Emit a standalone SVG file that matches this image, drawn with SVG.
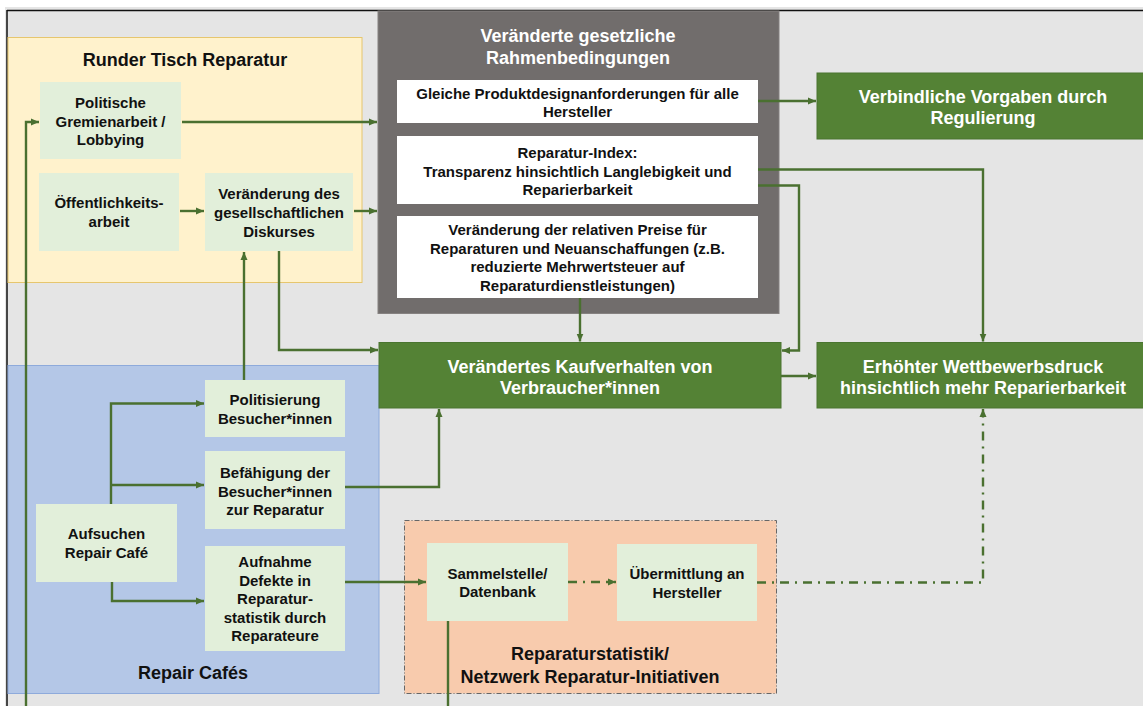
<svg xmlns="http://www.w3.org/2000/svg" width="1143" height="706" viewBox="0 0 1143 706">
<defs>
<style>
text{font-family:"Liberation Sans",Arial,sans-serif;font-weight:bold;text-anchor:middle}
.n{font-size:15px;fill:#111}
.t{font-size:18px;fill:#111}
.w{font-size:18px;fill:#fff}
.node{fill:#e2efda}
.wb{fill:#ffffff}
.g{fill:#548235;stroke:#4a7530;stroke-width:1}
.c{fill:none;stroke:#4a7030;stroke-width:2.4}
.dd{fill:none;stroke:#4a7030;stroke-width:2.4;stroke-dasharray:9 6 2 6}
</style>
<marker id="ah" markerUnits="userSpaceOnUse" markerWidth="9" markerHeight="8" refX="8" refY="4" orient="auto">
<path d="M0,0.5 L8,4 L0,7.5 Z" fill="#4a7030"/>
</marker>
</defs>
<rect x="0" y="0" width="1143" height="706" fill="#ffffff"/>
<rect x="5" y="7" width="1138" height="699" fill="#e5e5e5"/>
<line x1="7" y1="10.5" x2="1143" y2="10.5" stroke="#111" stroke-width="1.5"/>
<line x1="7" y1="10" x2="7" y2="706" stroke="#111" stroke-width="1.5"/>

<g id="runder-tisch">
<rect x="8" y="37.5" width="354" height="245" fill="#fff2cc" stroke="#e6c66e" stroke-width="1"/>
<text class="t" x="185" y="66">Runder Tisch Reparatur</text>
</g>
<g id="repair-cafes">
<rect x="8" y="365.5" width="371" height="328" fill="#b4c7e7" stroke="#8eaadb" stroke-width="1"/>
<text class="t" x="193" y="679">Repair Cafés</text>
</g>
<g id="reparaturstatistik">
<rect x="404.5" y="520.5" width="372" height="173" fill="#f8cbad" stroke="#666" stroke-width="1" stroke-dasharray="5 2 1 2"/>
<text class="t" x="590"><tspan x="590" y="660">Reparaturstatistik/</tspan><tspan x="590" y="683">Netzwerk Reparatur-Initiativen</tspan></text>
</g>
<g id="rahmenbedingungen">
<rect x="378" y="11" width="401" height="302.5" fill="#716d6c" stroke="#858180" stroke-width="1"/>
<text class="w"><tspan x="578" y="42">Veränderte gesetzliche</tspan><tspan x="578" y="64">Rahmenbedingungen</tspan></text>
</g>
<g id="produktdesign">
<rect class="wb" x="397" y="80" width="361" height="43"/>
<text class="n"><tspan x="577.5" y="98.5">Gleiche Produktdesignanforderungen für alle</tspan><tspan x="577.5" y="117">Hersteller</tspan></text>
</g>
<g id="reparatur-index">
<rect class="wb" x="397" y="136" width="361" height="68"/>
<text class="n"><tspan x="577.5" y="158">Reparatur-Index:</tspan><tspan x="577.5" y="176.5">Transparenz hinsichtlich Langlebigkeit und</tspan><tspan x="577.5" y="195">Reparierbarkeit</tspan></text>
</g>
<g id="preise">
<rect class="wb" x="397" y="216" width="361" height="82"/>
<text class="n"><tspan x="577.5" y="235">Veränderung der relativen Preise für</tspan><tspan x="577.5" y="253.5">Reparaturen und Neuanschaffungen (z.B.</tspan><tspan x="577.5" y="272">reduzierte Mehrwertsteuer auf</tspan><tspan x="577.5" y="290.5">Reparaturdienstleistungen)</tspan></text>
</g>
<g id="politische">
<rect class="node" x="40" y="82" width="141" height="77"/>
<text class="n"><tspan x="110.5" y="108">Politische</tspan><tspan x="110.5" y="126.5">Gremienarbeit /</tspan><tspan x="110.5" y="145">Lobbying</tspan></text>
</g>
<g id="oeffentlichkeit">
<rect class="node" x="39" y="173" width="140" height="78"/>
<text class="n"><tspan x="109" y="208">Öffentlichkeits-</tspan><tspan x="109" y="227">arbeit</tspan></text>
</g>
<g id="diskurs">
<rect class="node" x="205" y="173" width="148" height="78"/>
<text class="n"><tspan x="279" y="199">Veränderung des</tspan><tspan x="279" y="218">gesellschaftlichen</tspan><tspan x="279" y="236.5">Diskurses</tspan></text>
</g>
<g id="verbindliche">
<rect class="g" x="817" y="73" width="330" height="66"/>
<text class="w"><tspan x="983" y="102.5">Verbindliche Vorgaben durch</tspan><tspan x="983" y="124">Regulierung</tspan></text>
</g>
<g id="kaufverhalten">
<rect class="g" x="379" y="342.5" width="402" height="65.5"/>
<text class="w"><tspan x="580" y="372.5">Verändertes Kaufverhalten von</tspan><tspan x="580" y="394">Verbraucher*innen</tspan></text>
</g>
<g id="wettbewerb">
<rect class="g" x="817" y="342.5" width="330" height="65.5"/>
<text class="w"><tspan x="983" y="372.5">Erhöhter Wettbewerbsdruck</tspan><tspan x="983" y="394">hinsichtlich mehr Reparierbarkeit</tspan></text>
</g>
<g id="politisierung">
<rect class="node" x="205" y="380" width="140" height="57"/>
<text class="n"><tspan x="275" y="405">Politisierung</tspan><tspan x="275" y="423.5">Besucher*innen</tspan></text>
</g>
<g id="befaehigung">
<rect class="node" x="205" y="451" width="140" height="78"/>
<text class="n"><tspan x="275" y="478">Befähigung der</tspan><tspan x="275" y="496.5">Besucher*innen</tspan><tspan x="275" y="515">zur Reparatur</tspan></text>
</g>
<g id="aufsuchen">
<rect class="node" x="36" y="504" width="141" height="78"/>
<text class="n"><tspan x="106.5" y="539">Aufsuchen</tspan><tspan x="106.5" y="558">Repair Café</tspan></text>
</g>
<g id="aufnahme">
<rect class="node" x="205" y="546" width="140" height="105"/>
<text class="n"><tspan x="275" y="567">Aufnahme</tspan><tspan x="275" y="585.5">Defekte in</tspan><tspan x="275" y="604">Reparatur-</tspan><tspan x="275" y="622.5">statistik durch</tspan><tspan x="275" y="641">Reparateure</tspan></text>
</g>
<g id="sammelstelle">
<rect class="node" x="427" y="543" width="141" height="78"/>
<text class="n"><tspan x="497.5" y="578.5">Sammelstelle/</tspan><tspan x="497.5" y="597">Datenbank</tspan></text>
</g>
<g id="uebermittlung">
<rect class="node" x="617" y="544" width="140" height="77"/>
<text class="n"><tspan x="687" y="579">Übermittlung an</tspan><tspan x="687" y="597.5">Hersteller</tspan></text>
</g>

<g id="connectors">
<path class="c" d="M26,706 V122 H39" marker-end="url(#ah)"/>
<path class="c" d="M182,122 H377" marker-end="url(#ah)"/>
<path class="c" d="M180,211 H204" marker-end="url(#ah)"/>
<path class="c" d="M354,211 H377" marker-end="url(#ah)"/>
<path class="c" d="M244,380 V252" marker-end="url(#ah)"/>
<path class="c" d="M279,251 V350 H378" marker-end="url(#ah)"/>
<path class="c" d="M758,101 H816" marker-end="url(#ah)"/>
<path class="c" d="M758,169.5 H983 V341.5" marker-end="url(#ah)"/>
<path class="c" d="M758,185.5 H799 V350.5 H782" marker-end="url(#ah)"/>
<path class="c" d="M580,298 V341.5" marker-end="url(#ah)"/>
<path class="c" d="M781,376 H816" marker-end="url(#ah)"/>
<path class="c" d="M111,504 V403.5 H204" marker-end="url(#ah)"/>
<path class="c" d="M111,485 H204" marker-end="url(#ah)"/>
<path class="c" d="M112,582 V601 H204" marker-end="url(#ah)"/>
<path class="c" d="M345,487 H439 V409" marker-end="url(#ah)"/>
<path class="c" d="M345,582 H426" marker-end="url(#ah)"/>
<path class="dd" d="M568,582 H616" marker-end="url(#ah)"/>
<path class="dd" d="M757,582.5 H983 V409" marker-end="url(#ah)"/>
<path class="c" d="M448,621 V706"/>
</g>
</svg>
